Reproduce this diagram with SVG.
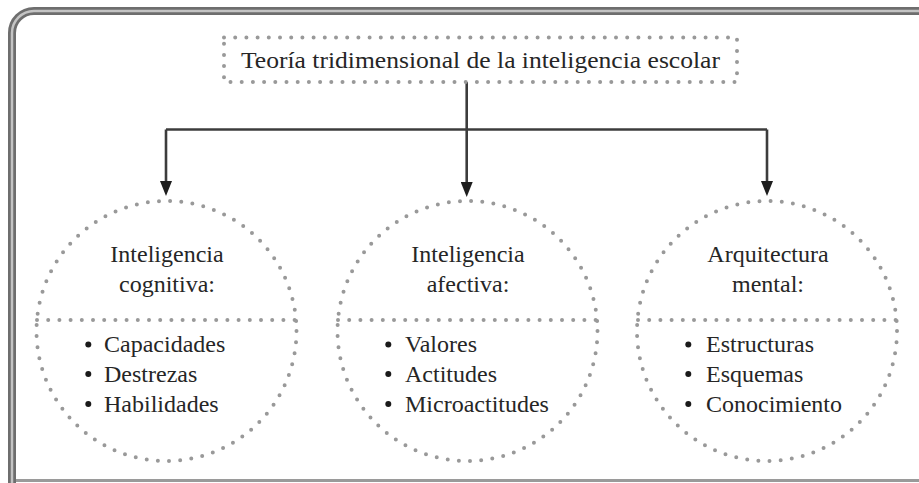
<svg xmlns="http://www.w3.org/2000/svg" width="919" height="483" viewBox="0 0 919 483">
<style>
  .dots{fill:none;stroke:#999999;stroke-width:4;stroke-linecap:round;stroke-dasharray:0 11.2}
  .conn{fill:none;stroke:#3c3c3c;stroke-width:2.6}
  .t{font-family:'Liberation Serif','Times New Roman',serif;font-size:24px;fill:#262626}
  .h{text-anchor:middle}
  .b{fill:#1a1a1a}
</style>
<defs>
  <marker id="arr" markerUnits="userSpaceOnUse" markerWidth="15" markerHeight="12" viewBox="0 0 15 12" refX="7" refY="6" orient="auto">
    <path d="M0,0 L15,6 L0,12 z" fill="#1e1e1e"/>
  </marker>
</defs>
<rect width="919" height="483" fill="#ffffff"/>
<g id="frame">
  <path d="M12,483 V33 A22,22 0 0 1 34,11 H919" fill="none" stroke="#6e6e6e" stroke-width="8"/>
  <path d="M12,483 V33 A22,22 0 0 1 34,11 H919" fill="none" stroke="#c4c4c4" stroke-width="2.5"/>
  <line x1="16" y1="480.5" x2="919" y2="480.5" stroke="#9a9a9a" stroke-width="3"/>
</g>
<g id="connectors">
  <path class="conn" d="M466.7,82 V189" marker-end="url(#arr)"/>
  <path class="conn" d="M166,129.5 H767"/>
  <path class="conn" d="M166,129.5 V188" marker-end="url(#arr)"/>
  <path class="conn" d="M767,129.5 V188" marker-end="url(#arr)"/>
</g>
<g id="title">
  <rect class="dots" x="224" y="37.5" width="513" height="44.5"/>
  <text class="t" x="241" y="68" font-size="24.5" textLength="479" lengthAdjust="spacingAndGlyphs">Teoría tridimensional de la inteligencia escolar</text>
</g>
<g id="cognitiva">
  <circle class="dots" cx="166.5" cy="331" r="130"/>
  <line class="dots" x1="37" y1="320" x2="296" y2="320"/>
  <text class="t h" x="167" y="262">Inteligencia</text>
  <text class="t h" x="167" y="292">cognitiva:</text>
  <circle class="b" cx="88.3" cy="344.5" r="3"/>
  <circle class="b" cx="88.3" cy="374" r="3"/>
  <circle class="b" cx="88.3" cy="404" r="3"/>
  <text class="t" x="104" y="352">Capacidades</text>
  <text class="t" x="104" y="381.5">Destrezas</text>
  <text class="t" x="104" y="411.5">Habilidades</text>
</g>
<g id="afectiva">
  <circle class="dots" cx="467.5" cy="331" r="130"/>
  <line class="dots" x1="338" y1="320" x2="597" y2="320"/>
  <text class="t h" x="468" y="262">Inteligencia</text>
  <text class="t h" x="468" y="292">afectiva:</text>
  <circle class="b" cx="388.3" cy="344.5" r="3"/>
  <circle class="b" cx="388.3" cy="374" r="3"/>
  <circle class="b" cx="388.3" cy="404" r="3"/>
  <text class="t" x="405" y="352">Valores</text>
  <text class="t" x="405" y="381.5">Actitudes</text>
  <text class="t" x="405" y="411.5">Microactitudes</text>
</g>
<g id="arquitectura">
  <circle class="dots" cx="767" cy="331" r="130"/>
  <line class="dots" x1="638" y1="320" x2="896" y2="320"/>
  <text class="t h" x="768" y="262">Arquitectura</text>
  <text class="t h" x="768" y="292">mental:</text>
  <circle class="b" cx="688.3" cy="344.5" r="3"/>
  <circle class="b" cx="688.3" cy="374" r="3"/>
  <circle class="b" cx="688.3" cy="404" r="3"/>
  <text class="t" x="706" y="352">Estructuras</text>
  <text class="t" x="706" y="381.5">Esquemas</text>
  <text class="t" x="706" y="411.5">Conocimiento</text>
</g>
</svg>
